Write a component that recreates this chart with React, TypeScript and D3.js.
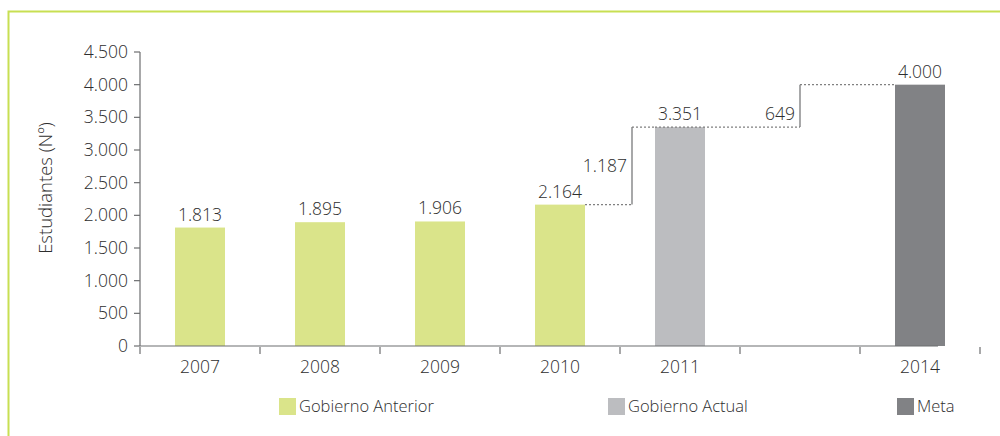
import React, { useRef, useEffect } from "react";
import * as d3 from "d3";

const categories = ["2007", "2008", "2009", "2010", "2011", "", "2014"];
const groups = ["anterior", "anterior", "anterior", "anterior", "actual", null, "meta"];
const values = [1813, 1895, 1906, 2164, 3351, null, 4000];
const yTicks = [0, 500, 1000, 1500, 2000, 2500, 3000, 3500, 4000, 4500];
const legendLabels = ["Gobierno Anterior", "Gobierno Actual", "Meta"];
const legendKeys = ["anterior", "actual", "meta"];
// increments shown on the step connectors
const steps = [
  { fromValue: 2164, toValue: 3351, label: 1187 },
  { fromValue: 3351, toValue: 4000, label: 649 },
];

const W = 1000;
const H = 436;

const App = () => {
  const svgRef = useRef<SVGSVGElement>(null);

  useEffect(() => {
    const svg = d3.select(svgRef.current);
    svg.selectAll("*").remove();

    const font = "'Open Sans', 'Noto Sans', sans-serif";
    const textColor = "#2e2e2e";
    const fs = 17.5;
    const colors: Record<string, string> = {
      anterior: "#dae48a",
      actual: "#bcbdc0",
      meta: "#818285",
    };

    const locale = d3.formatLocale({ decimal: ",", thousands: ".", grouping: [3], currency: ["", ""] });
    const fmt = locale.format(",d");

    const x = d3.scaleBand().domain(categories).range([140, 980]).padding(0);
    const y = d3.scaleLinear().domain([0, 4500]).range([346, 52]);
    const barW = 50;
    const cx = (c: string) => (x(c) ?? 0) + x.bandwidth() / 2;

    const addText = (sel: any) =>
      sel.attr("font-family", font).attr("font-weight", 300).attr("font-size", fs).attr("fill", textColor);

    // frame
    svg.append("path")
      .attr("d", `M8.5,${H} V11.5 H${W}`)
      .attr("fill", "none")
      .attr("stroke", "#c8df52")
      .attr("stroke-width", 2);

    // y axis
    const gy = svg.append("g").attr("transform", "translate(140,0)");
    gy.append("line").attr("y1", y(4500)).attr("y2", y(0)).attr("stroke", "#6d6e70").attr("stroke-width", 1.2);
    gy.selectAll("line.tick").data(yTicks).join("line")
      .attr("class", "tick")
      .attr("x1", -6).attr("x2", 0)
      .attr("y1", d => y(d)).attr("y2", d => y(d))
      .attr("stroke", "#6d6e70").attr("stroke-width", 1.2);
    addText(gy.selectAll("text").data(yTicks).join("text")
      .attr("x", -12).attr("y", d => y(d) + 6)
      .attr("text-anchor", "end"))
      .text((d: number) => fmt(d));

    addText(svg.append("text")
      .attr("transform", `translate(52,188) rotate(-90)`)
      .attr("text-anchor", "middle"))
      .attr("font-size", 18.5)
      .text("Estudiantes (Nº)");

    // bars
    const data = categories.map((c, i) => ({ c, v: values[i], g: groups[i] })).filter(d => d.v != null);
    svg.append("g").selectAll("rect").data(data).join("rect")
      .attr("x", d => cx(d.c) - barW / 2)
      .attr("width", barW)
      .attr("y", d => y(d.v as number))
      .attr("height", d => y(0) - y(d.v as number))
      .attr("fill", d => colors[d.g as string]);

    // x axis
    svg.append("line")
      .attr("x1", 140).attr("x2", cx("2014") + 18)
      .attr("y1", y(0)).attr("y2", y(0))
      .attr("stroke", "#6d6e70").attr("stroke-width", 1.2);
    const bounds = categories.map(c => x(c) as number).concat([x.range()[1]]);
    svg.append("g").selectAll("line").data(bounds).join("line")
      .attr("x1", d => d).attr("x2", d => d)
      .attr("y1", y(0) + 1).attr("y2", y(0) + 8)
      .attr("stroke", "#6d6e70").attr("stroke-width", 1.2);
    addText(svg.append("g").selectAll("text").data(categories).join("text")
      .attr("x", (d: string) => cx(d)).attr("y", 373)
      .attr("text-anchor", "middle"))
      .text((d: string) => d);

    // value labels
    addText(svg.append("g").selectAll("text").data(data).join("text")
      .attr("x", (d: any) => cx(d.c)).attr("y", (d: any) => y(d.v) - 7)
      .attr("text-anchor", "middle"))
      .text((d: any) => fmt(d.v));

    // step connectors
    const stepX = [(x("2011") as number) + 12, cx("")];
    const startX = [cx("2010") + barW / 2, cx("2011") - barW / 2];
    const endX = [cx("2011") - barW / 2, cx("2014") - barW / 2];
    steps.forEach((s, i) => {
      const g = svg.append("g");
      g.append("line")
        .attr("x1", startX[i]).attr("x2", stepX[i])
        .attr("y1", y(s.fromValue)).attr("y2", y(s.fromValue))
        .attr("stroke", "#808080").attr("stroke-width", 1.2).attr("stroke-dasharray", "2,2");
      g.append("line")
        .attr("x1", stepX[i]).attr("x2", stepX[i])
        .attr("y1", y(s.fromValue)).attr("y2", y(s.toValue))
        .attr("stroke", "#6d6e70").attr("stroke-width", 1.2);
      g.append("line")
        .attr("x1", stepX[i]).attr("x2", endX[i])
        .attr("y1", y(s.toValue)).attr("y2", y(s.toValue))
        .attr("stroke", "#808080").attr("stroke-width", 1.2).attr("stroke-dasharray", "2,2");
      addText(g.append("text")
        .attr("x", stepX[i] - 5)
        .attr("y", i === 0 ? (y(s.fromValue) + y(s.toValue)) / 2 + 6 : y(s.fromValue) - 7)
        .attr("text-anchor", "end"))
        .text(fmt(s.label));
    });

    // legend
    const legendX = [279, 608, 897];
    const lg = svg.append("g").selectAll("g").data(legendLabels).join("g")
      .attr("transform", (d, i) => `translate(${legendX[i]},398)`);
    lg.append("rect").attr("width", 17).attr("height", 17)
      .attr("fill", (d, i) => colors[legendKeys[i]]);
    addText(lg.append("text").attr("x", 20).attr("y", 14))
      .attr("font-size", 16.5)
      .text((d: string) => d);
  }, []);

  return (
    <svg
      ref={svgRef}
      width={W}
      height={H}
      style={{ position: "absolute", left: 0, top: 0, background: "#fff" }}
    />
  );
};

export default App;
